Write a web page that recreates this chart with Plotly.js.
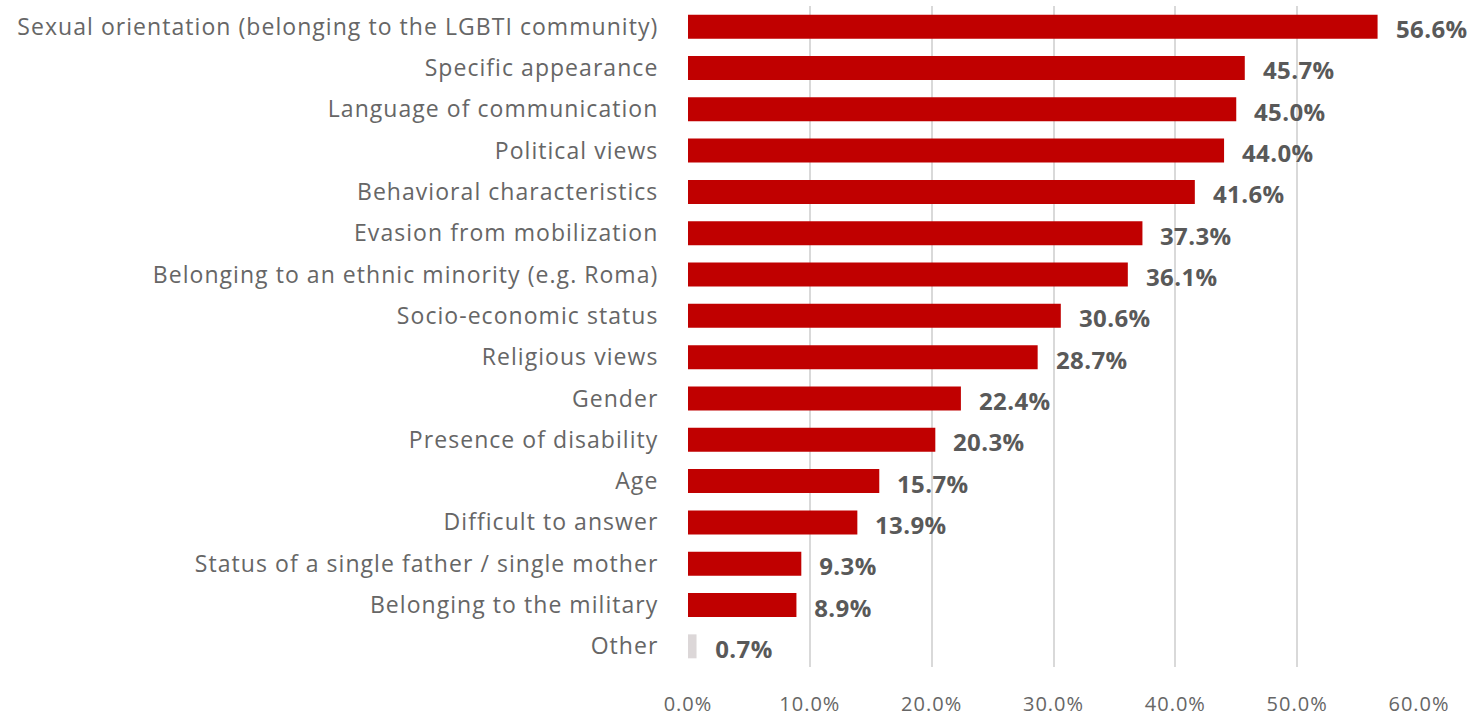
<!DOCTYPE html>
<html>
<head>
<meta charset="utf-8">
<script src="https://cdn.plot.ly/plotly-3.0.1.min.js"></script>
<style>
html,body{margin:0;padding:0;background:#fff;}
#chart{width:1476px;height:716px;}
#chart .ytick text{letter-spacing:1.05px;}
#chart .xtick text{letter-spacing:1px;}
#chart .annotation-text{letter-spacing:0.4px;}
</style>
</head>
<body>
<div id="chart"></div>
<script>
const categories = [
  "Sexual orientation (belonging to the LGBTI community)",
  "Specific appearance",
  "Language of communication",
  "Political views",
  "Behavioral characteristics",
  "Evasion from mobilization",
  "Belonging to an ethnic minority (e.g. Roma)",
  "Socio-economic status",
  "Religious views",
  "Gender",
  "Presence of disability",
  "Age",
  "Difficult to answer",
  "Status of a single father / single mother",
  "Belonging to the military",
  "Other"
];
const values = [56.6, 45.7, 45.0, 44.0, 41.6, 37.3, 36.1, 30.6, 28.7, 22.4, 20.3, 15.7, 13.9, 9.3, 8.9, 0.7];
const tickVals = [0, 10, 20, 30, 40, 50, 60];
const tickText = ["0.0%", "10.0%", "20.0%", "30.0%", "40.0%", "50.0%", "60.0%"];

const font = "'Open Sans', 'Noto Sans', sans-serif";
const colors = categories.map(c => c === "Other" ? "#dcd7d8" : "#c00000");

const trace = {
  type: "bar",
  orientation: "h",
  x: values,
  y: categories,
  marker: {color: colors},
  width: 0.58,
  hoverinfo: "none"
};

const annotations = values.map((v, i) => ({
  x: v, y: categories[i], xref: "x", yref: "y",
  text: v.toFixed(1) + "%",
  showarrow: false, xanchor: "left", yanchor: "middle",
  xshift: 17, yshift: -2,
  font: {family: font, size: 24, color: "#595959", weight: 700}
}));

const layout = {
  width: 1476, height: 716,
  margin: {l: 688, r: 57, t: 6, b: 49},
  paper_bgcolor: "#fff", plot_bgcolor: "#fff",
  showlegend: false,
  xaxis: {
    range: [0, 60], tickvals: tickVals, ticktext: tickText,
    showgrid: true, gridcolor: "#d9d9d9", gridwidth: 2,
    zeroline: false, showline: false,
    ticks: "outside", ticklen: 19, tickcolor: "rgba(0,0,0,0)",
    tickfont: {family: font, size: 20, color: "#666666"},
    fixedrange: true
  },
  yaxis: {
    autorange: "reversed",
    showgrid: false, zeroline: false, showline: false,
    ticks: "outside", ticklen: 24, tickcolor: "rgba(0,0,0,0)",
    tickfont: {family: font, size: 23, color: "#666666"},
    fixedrange: true
  },
  annotations: annotations
};

Plotly.newPlot("chart", [trace], layout, {displayModeBar: false, staticPlot: true});
</script>
</body>
</html>
